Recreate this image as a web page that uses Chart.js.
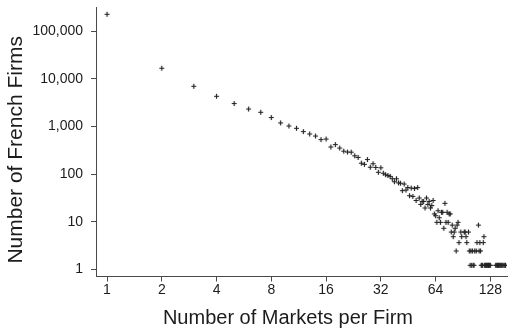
<!DOCTYPE html>
<html>
<head>
<meta charset="utf-8">
<title>Number of French Firms by Number of Markets</title>
<script src="https://cdn.jsdelivr.net/npm/chart.js@4.4.1/dist/chart.umd.min.js"></script>
<style>
  html, body { margin: 0; padding: 0; background: #fff; }
  #wrap { width: 512px; height: 334px; position: relative; }
</style>
</head>
<body>
<div id="wrap"><canvas id="chart" width="512" height="334"></canvas></div>
<script>
// Number of markets a firm sells in (x) and how many French firms do so (y)
const markets = [
  1, 2, 3, 4, 5, 6, 7, 8, 9, 10,
  11, 12, 13, 14, 15, 16, 17, 18, 19, 20,
  21, 22, 23, 24, 25, 26, 27, 28, 29, 30,
  31, 32, 33, 34, 35, 36, 37, 38, 39, 40,
  41, 42, 43, 44, 45, 46, 47, 48, 49, 50,
  51, 52, 53, 54, 55, 56, 57, 58, 59, 60,
  61, 62, 63, 64, 65, 66, 67, 68, 69, 70,
  71, 72, 73, 74, 75, 76, 77, 78, 79, 80,
  81, 82, 83, 84, 85, 86, 88, 89, 92, 93,
  94, 95, 97, 98, 99, 100, 101, 102, 103, 104,
  105, 107, 108, 110, 111, 112, 113, 114, 115, 116,
  117, 118, 119, 120, 121, 122, 123, 124, 125, 126,
  127, 128, 137, 138, 140, 141, 142, 144, 145, 147,
  148, 150, 152, 154, 155
];
const firms = [
  188000, 13800, 5770, 3550, 2500, 1920, 1640, 1270, 980, 845,
  755, 645, 575, 520, 437, 450, 306, 343, 291, 250,
  240, 238, 200, 185, 140, 132, 167, 115, 136, 114,
  90, 112, 86, 80, 77, 74, 66, 57, 66, 54,
  53, 37, 51, 38, 43, 29, 42, 28, 41, 23,
  43, 26, 19, 22, 22, 16, 26, 19, 22, 16,
  18, 23, 12, 11, 8, 14, 10, 8, 13, 13,
  6, 20, 8, 13, 8, 12, 12, 5, 7, 4,
  5, 6, 2, 7, 8, 3, 5, 4, 5, 5,
  4, 3, 5, 2, 1, 2, 1, 2, 1, 1,
  2, 2, 3, 7, 2, 3, 2, 1, 1, 1,
  3, 4, 1, 1, 1, 1, 1, 1, 1, 1,
  1, 1, 1, 1, 1, 1, 1, 1, 1, 1,
  1, 1, 1, 1, 1
];
const xTicks = [1, 2, 4, 8, 16, 32, 64, 128];
const yTicks = [1, 10, 100, 1000, 10000, 100000];
const xTitle = 'Number of Markets per Firm';
const yTitle = 'Number of French Firms';

const ink = '#1c1c1c';
const axisInk = '#4a4a4a';
const fontFamily = '"Liberation Sans", Arial, Helvetica, sans-serif';

// Small "+" marker; the glyph sits a little above its anchor like a text-set plus sign
function makePlus() {
  const c = document.createElement('canvas');
  c.width = 7; c.height = 15;
  const g = c.getContext('2d');
  g.strokeStyle = '#222';
  g.lineWidth = 1.2;
  g.beginPath();
  g.moveTo(1, 3.5); g.lineTo(6, 3.5);
  g.moveTo(3.5, 1); g.lineTo(3.5, 6);
  g.stroke();
  return c;
}
const plus = makePlus();

// Axis titles, placed relative to the plot area
const axisTitles = {
  id: 'axisTitles',
  afterDraw(chart) {
    const { ctx, chartArea: a } = chart;
    ctx.save();
    ctx.fillStyle = ink;
    ctx.textAlign = 'center';
    ctx.textBaseline = 'middle';
    ctx.font = '20px ' + fontFamily;
    ctx.fillText(xTitle, a.left + (a.right - a.left) * 0.467, chart.height - 16);
    ctx.translate(16, a.top + (a.bottom - a.top) * 0.53);
    ctx.rotate(-Math.PI / 2);
    ctx.font = '21px ' + fontFamily;
    ctx.fillText(yTitle, 0, 0);
    ctx.restore();
  }
};

// Keep the plot area edges fixed instead of reserving room for half-labels
function noEdgePadding(s) {
  s.paddingTop = 0; s.paddingBottom = 0; s.paddingLeft = 0; s.paddingRight = 0;
}

new Chart(document.getElementById('chart'), {
  type: 'scatter',
  data: {
    datasets: [{
      data: markets.map((m, i) => ({ x: m, y: firms[i] })),
      pointStyle: plus,
      pointRadius: 3,
      showLine: false
    }]
  },
  options: {
    responsive: false,
    animation: false,
    devicePixelRatio: 1,
    layout: { padding: { top: 7, right: 1, left: 0, bottom: 0 } },
    plugins: { legend: { display: false }, tooltip: { enabled: false } },
    scales: {
      x: {
        type: 'logarithmic',
        position: 'bottom',
        bounds: 'data',
        min: 0.87,
        max: 158,
        border: { color: axisInk, width: 1 },
        grid: { drawOnChartArea: false, drawTicks: true, tickLength: 5, color: axisInk },
        ticks: {
          autoSkip: false, maxRotation: 0, padding: 0, color: ink,
          font: { family: fontFamily, size: 14 },
          callback: v => String(v)
        },
        afterBuildTicks: s => { s.ticks = xTicks.map(v => ({ value: v })); },
        afterFit: s => { s.height = 57.5; noEdgePadding(s); }
      },
      y: {
        type: 'logarithmic',
        position: 'left',
        bounds: 'data',
        min: 0.706,
        max: 324000,
        border: { color: axisInk, width: 1 },
        grid: { drawOnChartArea: false, drawTicks: true, tickLength: 5, color: axisInk },
        ticks: {
          autoSkip: false, padding: 8, color: ink,
          font: { family: fontFamily, size: 14 },
          callback: v => Number(v).toLocaleString('en-US')
        },
        afterBuildTicks: s => { s.ticks = yTicks.map(v => ({ value: v })); },
        afterFit: s => { s.width = 96; noEdgePadding(s); }
      }
    }
  },
  plugins: [axisTitles]
});
</script>
</body>
</html>
